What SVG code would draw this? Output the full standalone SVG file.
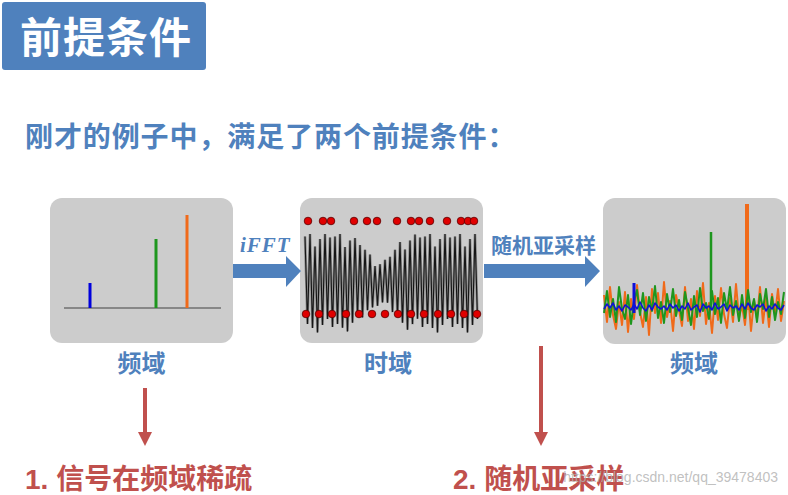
<svg xmlns="http://www.w3.org/2000/svg" width="788" height="495" viewBox="0 0 788 495">
<style>
.cjk{font-family:"Liberation Sans","Noto Sans CJK SC",sans-serif;font-weight:700}
.blue{fill:#4F81BD}
.red{fill:#C0504D}
.panel{fill:#CCCCCC}
.dot{fill:#E00000;stroke:#5a0000;stroke-width:0.8}
</style>
<defs>
<marker id="redhead" viewBox="0 0 10 10" refX="0" refY="5" markerWidth="15" markerHeight="14" markerUnits="userSpaceOnUse" orient="auto">
<path d="M0,0 L10,5 L0,10 z" fill="#C0504D"/>
</marker>
</defs>
<rect width="788" height="495" fill="#FFFFFF"/>

<g id="title">
<rect x="2" y="2" width="204" height="68" rx="3" fill="#4F81BD"/>
<text x="20" y="53" class="cjk" font-size="42" letter-spacing="1" fill="#FFFFFF">前提条件</text>
</g>

<g id="subtitle">
<text x="25" y="147" class="cjk blue" font-size="28" letter-spacing="0.9">刚才的例子中，满足了两个前提条件：</text>
</g>

<g id="panel-freq-sparse">
<rect x="50" y="198" width="183" height="145" rx="12" class="panel"/>
<line x1="64" y1="308" x2="221" y2="308" stroke="#707070" stroke-width="1.5"/>
<line x1="90" y1="283" x2="90" y2="308" stroke="#0000DD" stroke-width="3"/>
<line x1="156" y1="239" x2="156" y2="308" stroke="#1E961E" stroke-width="3"/>
<line x1="187" y1="215" x2="187" y2="308" stroke="#F06A1A" stroke-width="3"/>
<text x="141.5" y="372" class="cjk blue" font-size="24" text-anchor="middle">频域</text>
</g>

<g id="panel-time">
<rect x="300" y="198" width="183" height="145" rx="12" class="panel"/>
<polyline fill="none" stroke="#8a8a8a" stroke-width="2.6" points="305,236.5 307.5,324 310,234 312.5,328 315,246.5 317.5,332.5 320,239 322.5,325 325,234 327.5,319 330,237.5 332.5,327 335,236.5 337.5,324 340,234 342.5,327.7 345,247 347.5,331.4 350,240.5 352.5,322.7 355,238.1 357.5,314.8 360,245 362.5,317.5 365,249.8 367.5,310.2 370,254.6 372.5,307.4 375,266 377.5,305.8 380,264.2 382.5,302.5 385,259.9 387.5,302.6 390,256.7 392.5,312.1 395,249.8 397.5,315.2 400,242.1 402.5,322.7 405,249.6 407.5,329.8 410,240.5 412.5,324.1 415,234.6 417.5,318.8 420,237.5 422.5,327 425,236.5 427.5,324 430,234 432.5,328 435,246.5 437.5,332.5 440,239 442.5,325 445,234 447.5,319 450,237.5 452.5,327 455,236.5 457.5,324 460,234 462.5,328 465,246.5 467.5,332.5 470,239 472.5,325 475,234 477.5,319"/>
<polyline fill="none" stroke="#151515" stroke-width="1.1" points="305,236.5 307.5,324 310,234 312.5,328 315,246.5 317.5,332.5 320,239 322.5,325 325,234 327.5,319 330,237.5 332.5,327 335,236.5 337.5,324 340,234 342.5,327.7 345,247 347.5,331.4 350,240.5 352.5,322.7 355,238.1 357.5,314.8 360,245 362.5,317.5 365,249.8 367.5,310.2 370,254.6 372.5,307.4 375,266 377.5,305.8 380,264.2 382.5,302.5 385,259.9 387.5,302.6 390,256.7 392.5,312.1 395,249.8 397.5,315.2 400,242.1 402.5,322.7 405,249.6 407.5,329.8 410,240.5 412.5,324.1 415,234.6 417.5,318.8 420,237.5 422.5,327 425,236.5 427.5,324 430,234 432.5,328 435,246.5 437.5,332.5 440,239 442.5,325 445,234 447.5,319 450,237.5 452.5,327 455,236.5 457.5,324 460,234 462.5,328 465,246.5 467.5,332.5 470,239 472.5,325 475,234 477.5,319"/>
<g>
<circle cx="308" cy="221" r="3.8" class="dot"/><circle cx="323" cy="221" r="3.8" class="dot"/><circle cx="331" cy="221" r="3.8" class="dot"/><circle cx="354" cy="221" r="3.8" class="dot"/><circle cx="367" cy="221" r="3.8" class="dot"/><circle cx="377" cy="221" r="3.8" class="dot"/><circle cx="397" cy="221" r="3.8" class="dot"/><circle cx="411" cy="221" r="3.8" class="dot"/><circle cx="419" cy="221" r="3.8" class="dot"/><circle cx="430" cy="221" r="3.8" class="dot"/><circle cx="447" cy="221" r="3.8" class="dot"/><circle cx="461" cy="221" r="3.8" class="dot"/><circle cx="468" cy="221" r="3.8" class="dot"/><circle cx="474" cy="221" r="3.8" class="dot"/>
<circle cx="306" cy="314" r="3.8" class="dot"/><circle cx="319" cy="314" r="3.8" class="dot"/><circle cx="332" cy="314" r="3.8" class="dot"/><circle cx="346" cy="314" r="3.8" class="dot"/><circle cx="359" cy="314" r="3.8" class="dot"/><circle cx="372" cy="314" r="3.8" class="dot"/><circle cx="385" cy="314" r="3.8" class="dot"/><circle cx="398" cy="314" r="3.8" class="dot"/><circle cx="411" cy="314" r="3.8" class="dot"/><circle cx="424" cy="314" r="3.8" class="dot"/><circle cx="438" cy="314" r="3.8" class="dot"/><circle cx="451" cy="314" r="3.8" class="dot"/><circle cx="464" cy="314" r="3.8" class="dot"/><circle cx="477" cy="314" r="3.8" class="dot"/>
</g>
<text x="388" y="372" class="cjk blue" font-size="24" text-anchor="middle">时域</text>
</g>

<g id="panel-freq-recovered">
<rect x="603" y="198" width="183" height="146" rx="12" class="panel"/>
<polyline fill="none" stroke="#F06A1A" stroke-width="2" stroke-linejoin="round" points="604,295 607,322 610,287 613,315 616,329 619,302 622,325 625,292 628,332 631,299 634,319 637,285 640,312 643,327 646,297 649,335 652,289 655,313 658,293 661,323 664,282 667,317 670,301 673,331 676,295 679,310 682,326 685,287 688,321 691,299 694,329 697,291 700,316 703,283 706,324 709,303 712,333 715,296 718,320 721,288 724,314 727,328 730,298 733,322 736,284 739,318 742,305 745,325 748,292 751,331 754,300 757,319 760,287 763,323 766,297 769,327 772,294 775,315 778,289 781,321 784,301"/>
<line x1="747" y1="204" x2="747" y2="310" stroke="#F06A1A" stroke-width="4"/>
<polyline fill="none" stroke="#1E961E" stroke-width="2" stroke-linejoin="round" points="604,313 607,291 610,317 613,299 616,322 619,287 622,309 625,319 628,295 631,324 634,301 637,290 640,315 643,293 646,321 649,297 652,311 655,286 658,318 661,302 664,323 667,294 670,312 673,289 676,316 679,300 682,320 685,292 688,308 691,325 694,296 697,317 700,288 703,311 706,303 709,319 712,291 715,314 718,298 721,323 724,293 727,310 730,287 733,315 736,301 739,321 742,295 745,318 748,290 751,312 754,299 757,322 760,294 763,309 766,289 769,317 772,297 775,320 778,302 781,314 784,292"/>
<line x1="711" y1="232" x2="711" y2="310" stroke="#1E961E" stroke-width="2.5"/>
<polyline fill="none" stroke="#1010D8" stroke-width="1.6" stroke-linejoin="round" points="604,309 607,304 610,308 613,303 616,310 619,306 622,311 625,305 628,307 631,310 634,304 637,309 640,302 643,308 646,311 649,305 652,310 655,303 658,307 661,309 664,306 667,310 670,304 673,308 676,305 679,311 682,306 685,309 688,303 691,310 694,307 697,305 700,312 703,304 706,308 709,306 712,310 715,303 718,309 721,307 724,304 727,311 730,305 733,308 736,306 739,310 742,304 745,309 748,303 751,308 754,310 757,305 760,307 763,304 766,311 769,306 772,309 775,304 778,308 781,310 784,305"/>
<line x1="634" y1="283" x2="634" y2="313" stroke="#1010D8" stroke-width="3"/>
<text x="694" y="372" class="cjk blue" font-size="24" text-anchor="middle">频域</text>
</g>

<g id="connectors">
<polygon points="233,264 286,264 286,256 301,271 286,287 286,278 233,278" fill="#4F81BD"/>
<text x="240" y="252" font-family="'Liberation Serif',serif" font-style="italic" font-weight="700" font-size="21" letter-spacing="1" class="blue">iFFT</text>
<polygon points="484,264 585,264 585,256 600,271 585,287 585,278 484,278" fill="#4F81BD"/>
<text x="491" y="253" class="cjk blue" font-size="21">随机亚采样</text>
<line x1="145" y1="388" x2="145" y2="432" stroke="#C0504D" stroke-width="4" marker-end="url(#redhead)"/>
<line x1="541" y1="346" x2="541" y2="432" stroke="#C0504D" stroke-width="4" marker-end="url(#redhead)"/>
</g>

<g id="condition-1">
<text x="25" y="489" class="cjk red" font-size="28">1. 信号在频域稀疏</text>
</g>
<g id="condition-2">
<text x="453" y="489" class="cjk red" font-size="28">2. 随机亚采样</text>
</g>
<text x="778" y="482" font-family="'Liberation Sans',sans-serif" font-size="14" fill="#B0B0B0" fill-opacity="0.8" text-anchor="end">https://blog.csdn.net/qq_39478403</text>
</svg>
